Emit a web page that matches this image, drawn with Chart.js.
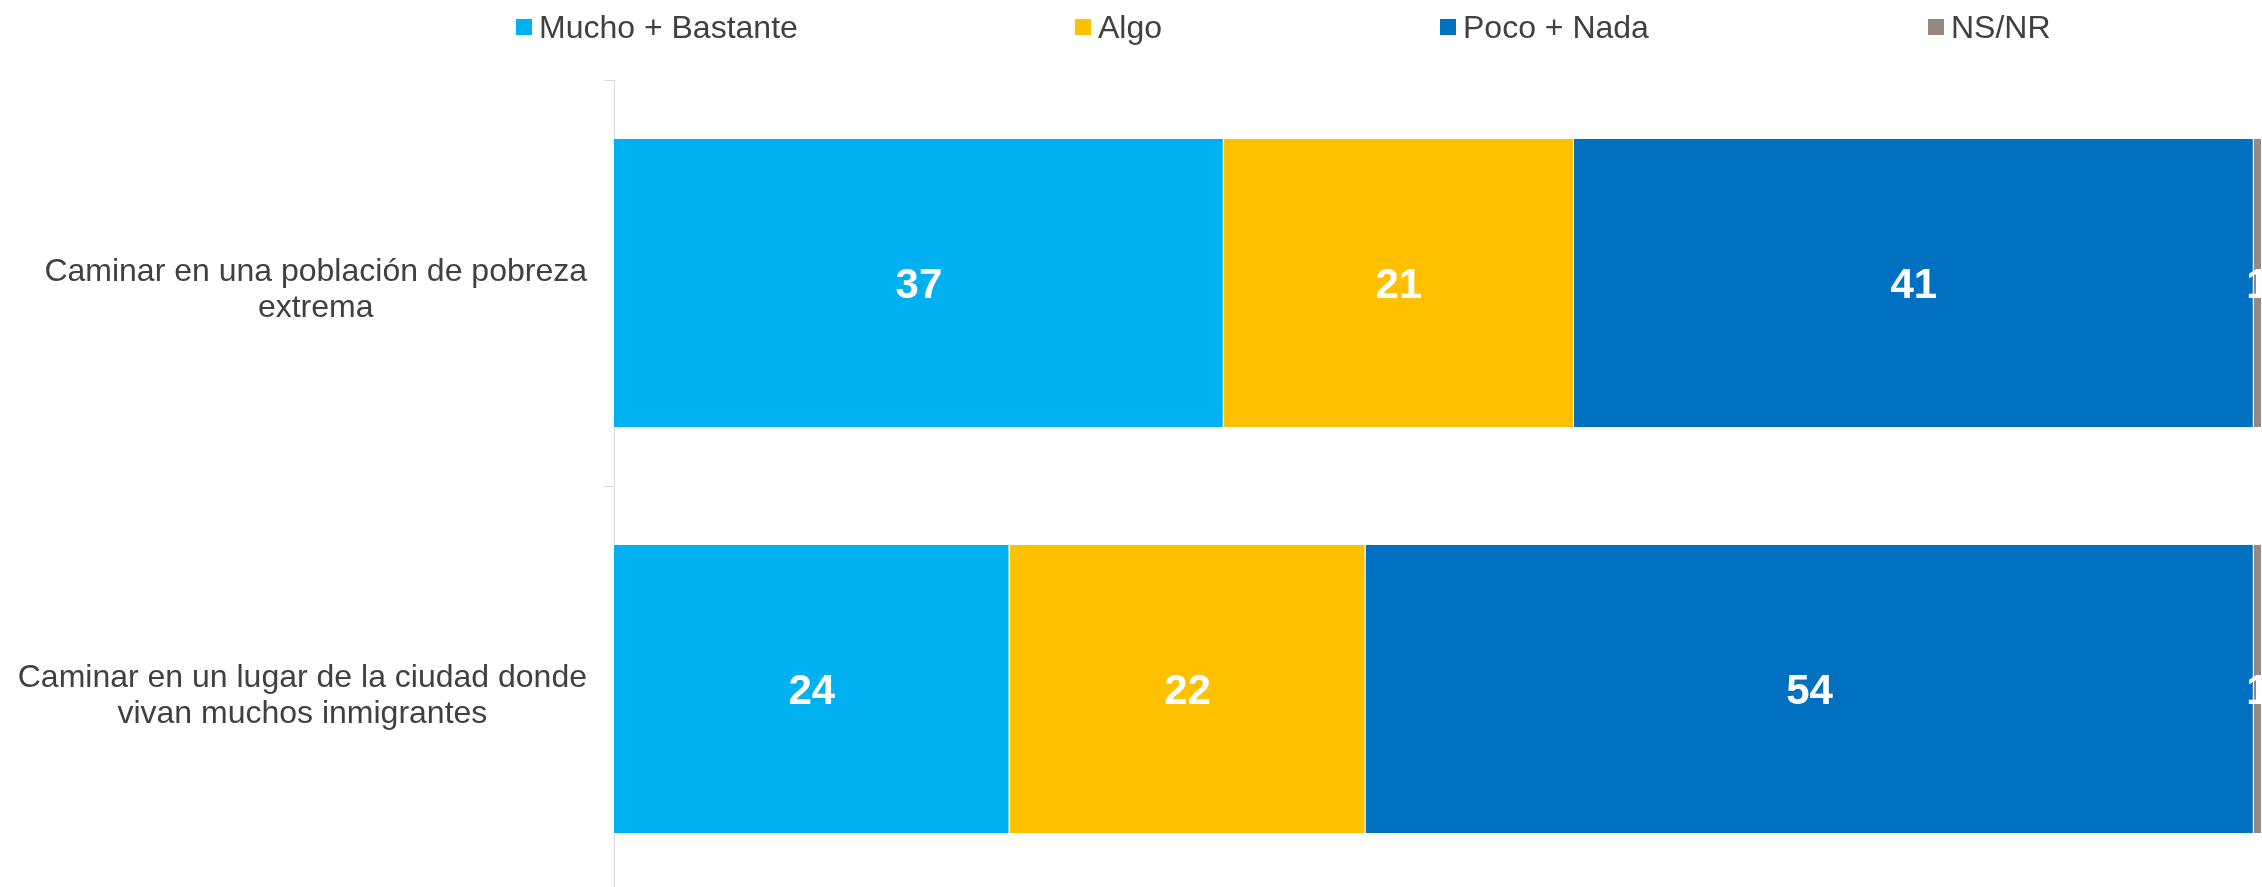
<!DOCTYPE html>
<html>
<head>
<meta charset="utf-8">
<script src="https://cdn.jsdelivr.net/npm/chart.js@4"></script>
<style>
  html, body { margin: 0; padding: 0; background: #ffffff; overflow: hidden; }
  #wrap { position: relative; width: 2262px; height: 887px; overflow: hidden; }
  canvas { position: absolute; left: 0; top: 0; }
  .lg { position: absolute; top: 8px; height: 38px; line-height: 38px; font-family: "Liberation Sans", Arial, sans-serif; font-size: 32px; color: #404040; white-space: nowrap; }
  .lg span.sw { position: absolute; left: 0; top: 11px; width: 16px; height: 16px; }
  .lg span.tx { position: absolute; left: 23px; top: 0; }
</style>
</head>
<body>
<div id="wrap">
  <canvas id="c" width="2262" height="892"></canvas>
  <div id="legend"></div>
</div>
<script>
const categories = [
  ['Caminar en una población de pobreza', 'extrema'],
  ['Caminar en un lugar de la ciudad donde', 'vivan muchos inmigrantes']
];
const seriesNames = ['Mucho + Bastante', 'Algo', 'Poco + Nada', 'NS/NR'];
const muchoBastante = [37, 24];
const algo = [21.25, 21.6];
const pocoNada = [41.25, 53.9];
const nsnr = [0.5, 0.5];
const colors = ['#00B0F0', '#FFC000', '#0070C0', '#958882'];
const legendLeft = [516, 1075, 1440, 1928];

const FONT = '"Liberation Sans", Arial, sans-serif';
const seriesValues = [muchoBastante, algo, pocoNada, nsnr];

// HTML legend
const lg = document.getElementById('legend');
seriesNames.forEach((name, i) => {
  const d = document.createElement('div');
  d.className = 'lg';
  d.style.left = legendLeft[i] + 'px';
  const sw = document.createElement('span');
  sw.className = 'sw';
  sw.style.background = colors[i];
  const tx = document.createElement('span');
  tx.className = 'tx';
  tx.textContent = name;
  d.appendChild(sw); d.appendChild(tx);
  lg.appendChild(d);
});

// Each label's widest line is right-aligned with the others; other lines centred under it
const mctx = document.createElement('canvas').getContext('2d');
mctx.font = '32px ' + FONT;
const widestOf = lines => Math.max(...lines.map(l => mctx.measureText(l).width));
const globalWidest = Math.max(...categories.map(widestOf));
const spaceW = mctx.measureText(' ').width;
function alignLabel(lines) {
  const n = Math.round((globalWidest - widestOf(lines)) / spaceW);
  const pre = ' '.repeat(n);
  return lines.map(l => pre + l);
}

const valueLabels = {
  id: 'valueLabels',
  afterDatasetsDraw(chart) {
    const ctx = chart.ctx;
    ctx.save();
    ctx.font = 'bold 42px ' + FONT;
    ctx.fillStyle = '#ffffff';
    ctx.textAlign = 'center';
    ctx.textBaseline = 'middle';
    chart.data.datasets.forEach((ds, di) => {
      const meta = chart.getDatasetMeta(di);
      meta.data.forEach((el, i) => {
        const p = el.getCenterPoint();
        ctx.fillText(String(Math.round(ds.data[i])), p.x, p.y + 3);
      });
    });
    ctx.restore();
  }
};

new Chart(document.getElementById('c'), {
  type: 'bar',
  data: {
    labels: categories,
    datasets: seriesNames.map((name, i) => ({
      label: name,
      data: seriesValues[i],
      backgroundColor: colors[i],
      borderColor: '#ffffff',
      borderWidth: 1,
      borderSkipped: 'start',
      categoryPercentage: 1,
      barPercentage: 0.714
    }))
  },
  options: {
    indexAxis: 'y',
    responsive: false,
    animation: false,
    layout: { padding: { top: 80, left: 0, right: 0, bottom: 0 } },
    plugins: { legend: { display: false }, tooltip: { enabled: false } },
    scales: {
      x: { stacked: true, min: 0, max: 100, display: false },
      y: {
        stacked: true,
        grid: { display: true, drawOnChartArea: false, drawTicks: true, tickLength: 10, color: '#d9d9d9', offset: true },
        border: { display: true, color: '#d9d9d9', width: 1 },
        ticks: {
          crossAlign: 'center', padding: 17, color: '#404040', labelOffset: 7,
          font: { size: 32, family: FONT, lineHeight: 1.13 },
          callback: function (value, index) { return alignLabel(categories[index]); }
        },
        afterFit: s => { s.width = 614; s.paddingTop = 0; s.paddingBottom = 0; }
      }
    }
  },
  plugins: [valueLabels]
});
</script>
</body>
</html>
